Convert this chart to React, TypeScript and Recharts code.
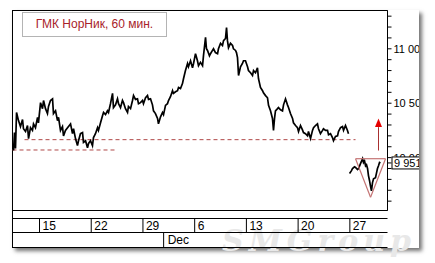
import React from "react";
import {
  LineChart,
  Line,
  XAxis,
  YAxis,
  ReferenceLine,
  ReferenceArea,
  ReferenceDot,
} from "recharts";

// hourly closes, x = trading days from Mon 15 Nov
const beforeGap: [number, number][] = [
  [-2.51, 10065], [-2.42, 10230], [-2.32, 10085], [-2.22, 10415], [-2.03, 10340],
  [-1.84, 10285], [-1.64, 10350], [-1.55, 10265], [-1.35, 10240], [-1.16, 10295],
  [-1.06, 10175], [-0.87, 10275], [-0.68, 10250], [-0.58, 10310], [-0.39, 10275],
  [-0.19, 10370], [-0.1, 10320], [0.1, 10505], [0.29, 10450], [0.39, 10525],
  [0.58, 10450], [0.77, 10405], [0.87, 10470], [1.06, 10525], [1.26, 10540],
  [1.35, 10405], [1.55, 10430], [1.74, 10340], [1.84, 10370], [2.03, 10250],
  [2.22, 10285], [2.32, 10200], [2.51, 10250], [2.71, 10275], [3.0, 10310],
  [3.19, 10220], [3.29, 10265], [3.48, 10175], [3.67, 10110], [3.77, 10155],
  [3.96, 10220], [4.16, 10230], [4.25, 10140], [4.45, 10155], [4.64, 10090],
  [4.74, 10130], [4.93, 10155], [5.12, 10110], [5.22, 10185], [5.41, 10220],
  [5.61, 10275], [5.7, 10250], [5.9, 10320], [6.09, 10385], [6.19, 10415],
  [6.38, 10395], [6.57, 10430], [6.67, 10415], [6.86, 10495], [7.06, 10590],
  [7.15, 10460], [7.35, 10485], [7.54, 10540], [7.64, 10495], [7.83, 10460],
  [8.02, 10525], [8.12, 10505], [8.31, 10450], [8.51, 10415], [8.6, 10470],
  [8.8, 10450], [8.99, 10525], [9.09, 10570], [9.28, 10535], [9.47, 10540],
  [9.57, 10495], [9.76, 10505], [9.96, 10525], [10.05, 10495], [10.25, 10550],
  [10.44, 10570], [10.54, 10535], [10.73, 10540], [10.92, 10485], [11.02, 10430],
  [11.21, 10405], [11.41, 10360], [11.5, 10310], [11.7, 10375], [11.89, 10415],
  [11.99, 10395], [12.18, 10480], [12.37, 10495], [12.47, 10525], [12.66, 10560],
  [12.86, 10615], [12.95, 10590], [13.15, 10605], [13.34, 10615], [13.44, 10645],
  [13.63, 10635], [13.82, 10680], [13.92, 10725], [14.11, 10800], [14.31, 10865],
  [14.4, 10835], [14.6, 10890], [14.79, 10825], [14.89, 10865], [15.08, 10955],
  [15.27, 10890], [15.37, 10845], [15.56, 10875], [15.76, 10845], [15.85, 10935],
  [16.05, 11105], [16.14, 11000], [16.24, 10985], [16.43, 10935], [16.53, 10955],
  [16.72, 10985], [16.82, 11000], [17.01, 10965], [17.21, 10955], [17.3, 11000],
  [17.5, 11050], [17.69, 11030], [17.79, 11075], [17.98, 11095], [18.08, 11195],
  [18.17, 11075], [18.27, 11010], [18.46, 11050], [18.66, 11030], [18.75, 11000],
  [18.95, 10985], [19.04, 10965], [19.14, 10920], [19.24, 10755], [19.43, 10835],
  [19.62, 10865], [19.72, 10890], [19.91, 10890], [20.11, 10835], [20.2, 10800],
  [20.4, 10780], [20.59, 10755], [20.69, 10800], [20.88, 10780], [21.07, 10825],
  [21.17, 10725], [21.36, 10645], [21.56, 10615], [21.65, 10595], [21.85, 10570],
  [22.04, 10550], [22.14, 10480], [22.33, 10430], [22.52, 10360], [22.62, 10250],
  [22.72, 10360], [22.81, 10430], [23.01, 10450], [23.1, 10460], [23.3, 10440],
  [23.49, 10430], [23.59, 10485], [23.78, 10540], [23.97, 10485], [24.07, 10460],
  [24.26, 10405], [24.46, 10360], [24.55, 10320], [24.75, 10295], [24.94, 10275],
  [25.04, 10240], [25.23, 10295], [25.42, 10255], [25.52, 10230], [25.71, 10220],
  [25.91, 10200], [26.0, 10240], [26.2, 10175], [26.39, 10250], [26.49, 10275],
  [26.68, 10295], [26.87, 10310], [26.97, 10265], [27.16, 10220], [27.36, 10250],
  [27.45, 10265], [27.65, 10250], [27.84, 10250], [27.94, 10210], [28.13, 10220],
  [28.32, 10185], [28.42, 10155], [28.61, 10195], [28.81, 10200], [28.9, 10240],
  [29.1, 10275], [29.29, 10285], [29.39, 10250], [29.58, 10295], [29.77, 10250],
  [29.87, 10220],
];

const afterGap: [number, number][] = [
  [29.97, 9855], [30.16, 9880], [30.26, 9900], [30.45, 9915], [30.55, 9910],
  [30.74, 9890], [30.84, 9900], [31.03, 9945], [31.23, 9990], [31.32, 9955],
  [31.42, 9970], [31.52, 9925], [31.61, 9935], [31.71, 9900], [31.8, 9835],
  [31.9, 9790], [32.0, 9735], [32.09, 9695], [32.19, 9770], [32.29, 9805],
  [32.48, 9815], [32.58, 9860], [32.67, 9900], [32.77, 9925], [32.87, 9955],
  [32.96, 9951],
];

const weekTicks = [0, 5, 10, 15, 20, 25, 30];
const weekLabels = ["15", "22", "29", "6", "13", "20", "27"];
const monthTicks = [12];
const monthLabels = ["Dec"];
const priceTicks = [
  9600, 9700, 9800, 9900, 10000, 10100, 10200, 10300, 10400, 10500, 10600,
  10700, 10800, 10900, 11000, 11100, 11200, 11300,
];
const lastPrice = 9951;

// levels drawn on the chart
const upperLevel = 10165;
const lowerLevel = 10070;
const triangleTop = 9990;
const triangleBottom = 9635;

const xDomain: [number, number] = [-2.61, 33.64];
const yDomain: [number, number] = [9514, 11352];

const data = [
  ...beforeGap.map(([t, price]) => ({ t, price })),
  { t: 29.92, price: null },
  ...afterGap.map(([t, price]) => ({ t, price })),
];

const FONT = "'Liberation Sans', Arial, sans-serif";

const fmt = (v: number) => String(v).replace(/\B(?=(\d{3})+(?!\d))/g, " ");

const WeekTick = ({ x, y, payload }: any) => {
  const i = weekTicks.indexOf(payload.value);
  return (
    <g>
      <line x1={x} y1={y} x2={x} y2={y + 14} stroke="#000" />
      <text x={x + 3} y={y + 11} fontSize={12} fontFamily={FONT} fill="#000">
        {weekLabels[i]}
      </text>
    </g>
  );
};

const MonthTick = ({ x, y, payload }: any) => {
  const i = monthTicks.indexOf(payload.value);
  return (
    <g>
      <line x1={x} y1={y} x2={x} y2={y + 15} stroke="#000" />
      <text x={x + 4} y={y + 11.5} fontSize={12} fontFamily={FONT} fill="#000">
        {monthLabels[i]}
      </text>
    </g>
  );
};

const PriceTick = ({ x, y, payload }: any) => {
  const v = payload.value;
  if (v === lastPrice) {
    return (
      <g>
        <rect x={x - 1.5} y={y - 6} width={28} height={12} fill="#fff" stroke="#000" />
        <text x={x + 0.5} y={y + 4} fontSize={11} fontFamily={FONT} fill="#000">
          {fmt(v)}
        </text>
      </g>
    );
  }
  if (v % 500 !== 0) return <g />;
  return (
    <text x={x} y={y + 4} fontSize={11} fontFamily={FONT} fill="#000">
      {fmt(v)}
    </text>
  );
};

const ArrowHead = ({ cx, cy }: any) => (
  <path
    d={`M${cx},${cy - 4.5} L${cx + 3.5},${cy + 4} L${cx - 3.5},${cy + 4} Z`}
    fill="#e60000"
  />
);

export default function App() {
  return (
    <div
      style={{
        position: "absolute",
        left: 0,
        top: 0,
        width: 435,
        height: 263,
        background: "#fff",
        overflow: "hidden",
      }}
    >
      <div
        style={{
          position: "absolute",
          left: 12,
          top: 10,
          width: 407,
          height: 238,
          background: "#fff",
          borderLeft: "1px solid #000",
          boxSizing: "border-box",
          boxShadow: "3px 3px 4px rgba(0,0,0,0.55)",
        }}
      />
      <div
        style={{
          position: "absolute",
          left: 222,
          top: 225,
          fontFamily: "'DejaVu Serif', serif",
          fontWeight: "bold",
          fontStyle: "italic",
          fontSize: 30,
          lineHeight: "32px",
          letterSpacing: 5,
          color: "#e8e8e8",
          whiteSpace: "nowrap",
        }}
      >
        SMGroup
      </div>
      <div style={{ position: "absolute", left: 0, top: 0, width: 419, height: 249, overflow: "hidden" }}>
        <LineChart
          width={419.5}
          height={248.5}
          data={data}
          margin={{ top: 10.5, right: 0, bottom: 0, left: 12.5 }}
        >
          {/* bottom axes are stacked in id order */}
          <XAxis xAxisId="a_gap" dataKey="t" type="number" domain={xDomain} height={8}
            tick={false} tickLine={false} axisLine={false} />
          <XAxis xAxisId="b_week" dataKey="t" type="number" domain={xDomain} height={14}
            ticks={weekTicks} interval={0} tickSize={0} tickMargin={0} tickLine={false}
            axisLine={{ stroke: "#000" }} tick={(p: any) => <WeekTick {...p} />} />
          <XAxis xAxisId="c_month" dataKey="t" type="number" domain={xDomain} height={15}
            ticks={monthTicks} interval={0} tickSize={0} tickMargin={0} tickLine={false}
            axisLine={{ stroke: "#000" }} tick={(p: any) => <MonthTick {...p} />} />
          <XAxis xAxisId="d_base" dataKey="t" type="number" domain={xDomain} height={1}
            tick={false} tickLine={false} axisLine={{ stroke: "#000" }} />
          <YAxis yAxisId="p" orientation="right" type="number" domain={yDomain} width={32}
            ticks={[...priceTicks, lastPrice]} interval={0} tickSize={4} tickMargin={2}
            axisLine={{ stroke: "#000" }} tickLine={{ stroke: "#000" }}
            tick={(p: any) => <PriceTick {...p} />} />
          <ReferenceArea xAxisId="b_week" yAxisId="p" x1={xDomain[0]} x2={xDomain[1]}
            y1={yDomain[0]} y2={yDomain[1]} fill="none" stroke="#000" />
          <ReferenceLine xAxisId="b_week" yAxisId="p" stroke="#b04848" strokeDasharray="4 3"
            segment={[{ x: -1.45, y: upperLevel }, { x: 30.55, y: upperLevel }]} />
          <ReferenceLine xAxisId="b_week" yAxisId="p" stroke="#b04848" strokeDasharray="4 3"
            segment={[{ x: xDomain[0], y: lowerLevel }, { x: 7.54, y: lowerLevel }]} />
          <Line
            xAxisId="b_week"
            yAxisId="p"
            type="linear"
            dataKey="price"
            stroke="#000"
            strokeWidth={1.7}
            dot={false}
            activeDot={false}
            connectNulls={false}
            isAnimationActive={false}
          />
          <ReferenceLine xAxisId="b_week" yAxisId="p" stroke="#c47474" strokeWidth={1.2}
            segment={[{ x: 30.55, y: triangleTop }, { x: 33.45, y: triangleTop }]} />
          <ReferenceLine xAxisId="b_week" yAxisId="p" stroke="#c47474" strokeWidth={1.2}
            segment={[{ x: 30.55, y: triangleTop }, { x: 32.0, y: triangleBottom }]} />
          <ReferenceLine xAxisId="b_week" yAxisId="p" stroke="#c47474" strokeWidth={1.2}
            segment={[{ x: 33.45, y: triangleTop }, { x: 32.0, y: triangleBottom }]} />
          <ReferenceLine xAxisId="b_week" yAxisId="p" stroke="#a83030" strokeWidth={1}
            segment={[{ x: 32.77, y: 10065 }, { x: 32.77, y: 10280 }]} />
          <ReferenceDot xAxisId="b_week" yAxisId="p" x={32.77} y={10318} r={4}
            shape={(p: any) => <ArrowHead {...p} />} />
        </LineChart>
      </div>
      <div
        style={{
          position: "absolute",
          left: 22,
          top: 12,
          width: 145,
          height: 25,
          boxSizing: "border-box",
          border: "1px solid #b4b4b4",
          background: "#fff",
          color: "#a8222a",
          fontFamily: FONT,
          fontSize: 12,
          lineHeight: "23px",
          textAlign: "center",
          whiteSpace: "nowrap",
        }}
      >
        ГМК НорНик, 60 мин.
      </div>
    </div>
  );
}
